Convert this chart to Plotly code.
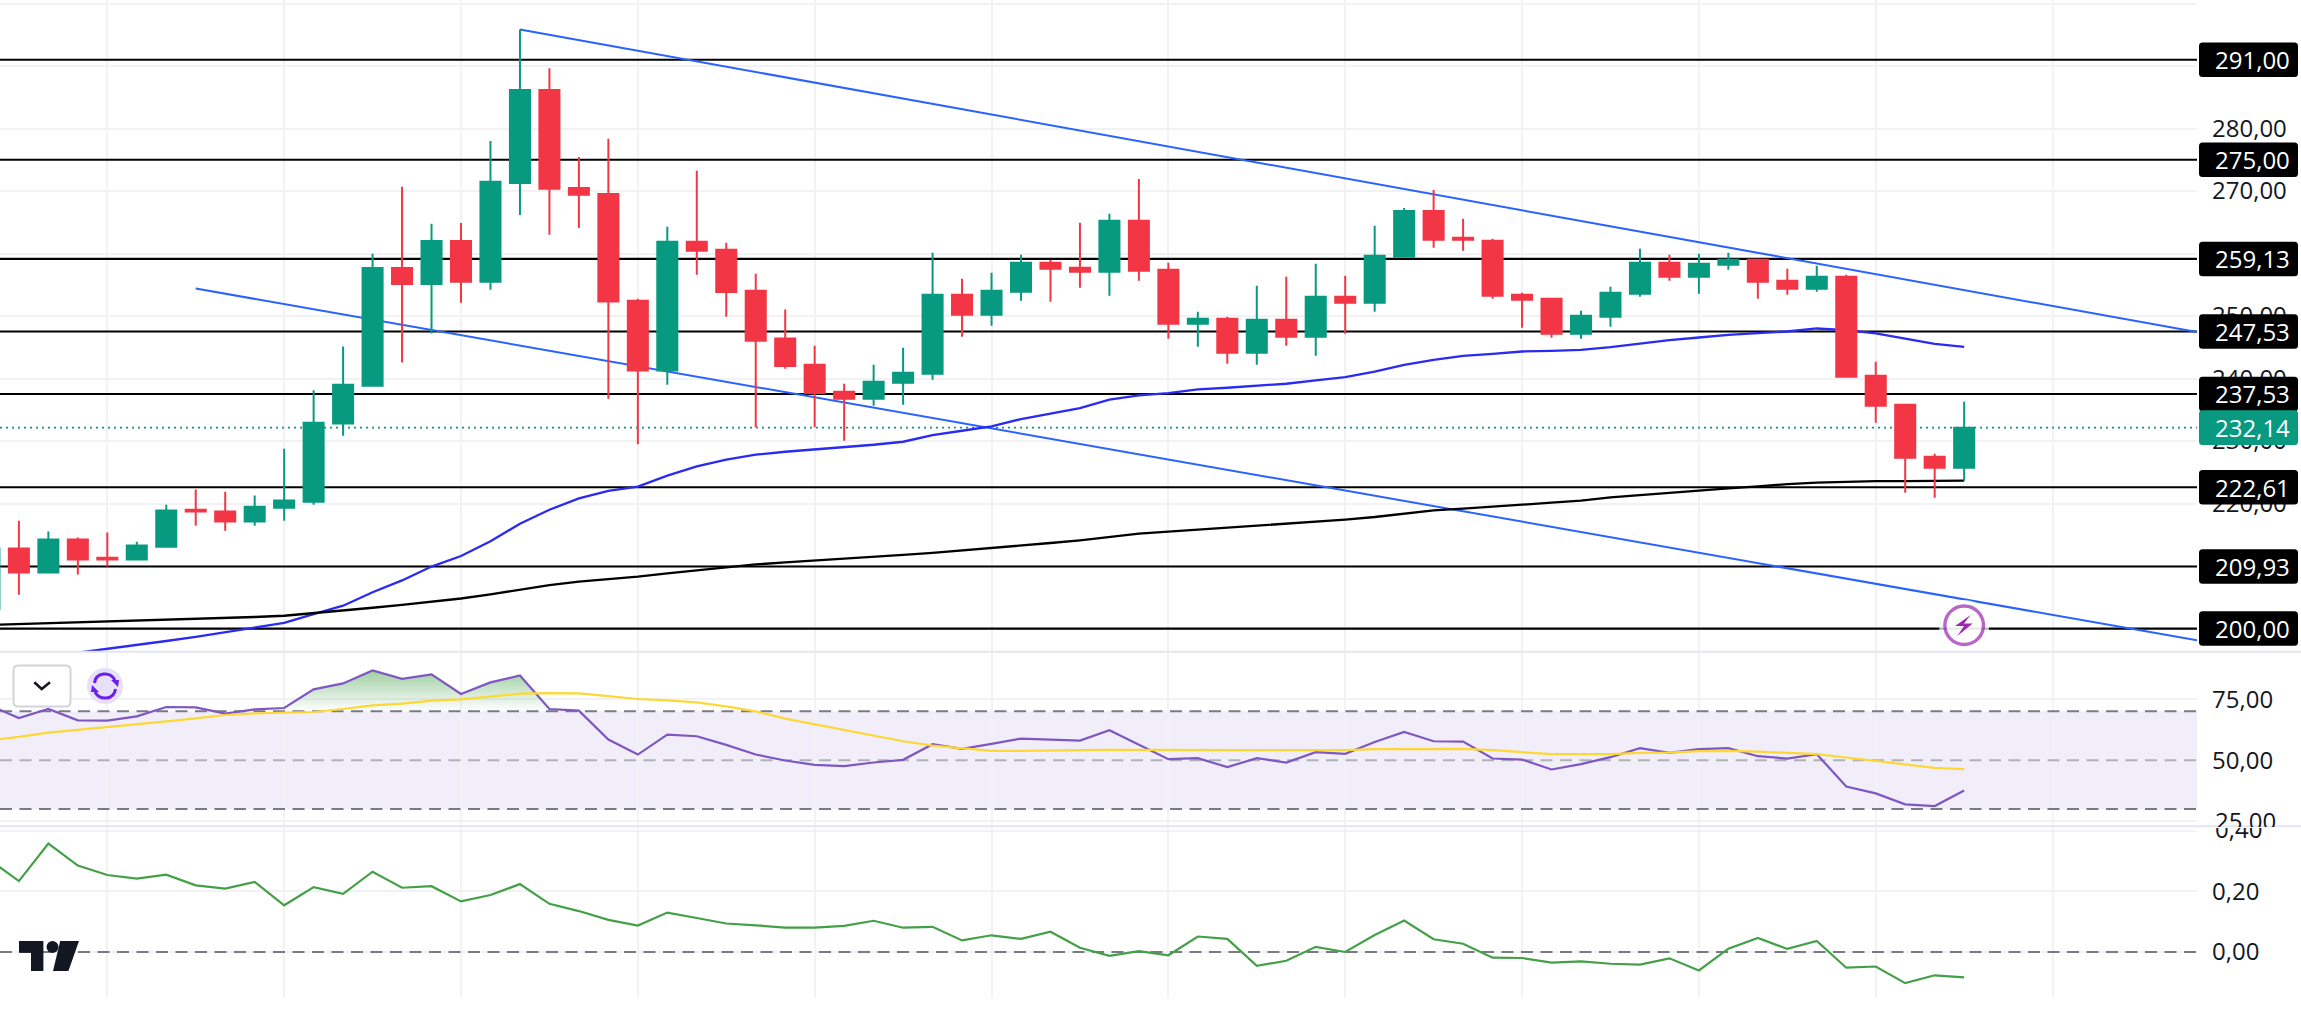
import numpy as np
import plotly.graph_objects as go

# ---------- data ----------
bar_index = list(range(-1, 67))
opens = [203.13,212.82,208.98,214.23,211.33,211.06,213.08,219.01,218.74,217.12,219.34,220.28,232.80,238.85,257.70,255.14,262.00,255.48,271.29,286.16,270.48,269.54,252.45,241.28,261.87,260.59,254.06,246.39,
         242.20,237.89,236.77,239.33,240.77,253.40,250.20,253.87,258.51,257.71,257.07,265.23,257.39,248.76,249.56,244.12,249.40,246.68,253.08,252.12,259.47,266.82,262.51,262.03,253.40,252.76,247.16,
         249.88,253.55,258.51,256.27,258.19,258.99,255.63,254.35,256.27,240.44,235.81,227.49,225.73]
highs = [212.82,217.26,215.51,214.56,215.37,213.89,219.81,222.23,221.90,221.29,228.76,238.11,245.11,259.98,270.68,264.76,264.90,278.02,295.85,289.66,275.46,278.35,252.78,264.29,273.24,261.73,256.75,251.03,
         245.24,239.17,242.20,244.92,260.11,255.95,256.91,259.79,258.99,264.91,266.35,271.94,258.51,250.68,249.88,254.83,256.27,258.35,256.43,264.43,267.30,270.18,265.55,262.35,253.72,252.76,250.84,
         254.67,260.75,259.79,259.95,260.11,259.15,257.55,258.03,256.59,242.68,235.81,227.97,236.29]
lows = [203.13,205.41,208.98,208.64,209.92,211.06,213.08,216.45,215.64,216.45,217.26,219.81,230.85,238.85,242.56,247.20,252.11,254.20,266.17,263.01,264.09,236.77,229.50,238.99,256.62,249.89,232.19,241.55,
        232.19,230.05,235.65,235.81,239.81,246.68,248.44,252.44,252.28,254.51,253.24,255.63,246.36,245.08,242.36,242.20,245.24,243.64,247.16,250.68,259.47,260.91,260.43,252.76,248.12,246.52,246.36,
        248.28,253.07,255.63,253.55,257.39,252.75,253.39,253.87,240.28,232.93,221.74,220.94,223.66]
closes = [212.82,208.98,214.23,211.06,211.06,213.29,218.87,218.74,217.12,219.48,220.48,232.93,238.99,257.70,255.14,262.00,255.48,271.49,286.16,270.35,269.40,252.31,241.28,261.87,260.46,253.86,246.06,242.02,
          237.67,236.77,239.49,240.93,253.40,250.20,254.03,258.51,257.55,257.07,265.23,257.23,248.76,249.56,244.12,249.40,246.68,253.08,252.12,259.63,266.82,262.19,262.19,253.24,252.60,247.16,250.04,
          253.71,258.51,256.27,258.35,258.99,255.47,254.35,256.27,240.28,235.65,227.33,225.73,232.14]

ma50_index = list(range(2, 67))
ma50 = [196.13,196.73,197.40,198.01,198.68,199.42,200.16,200.91,202.32,203.66,205.82,207.70,209.92,211.60,213.96,216.78,219.01,220.82,222.03,222.71,224.46,225.94,227.01,227.82,228.29,
        228.67,228.99,229.41,229.89,230.96,231.65,232.35,233.52,234.42,235.28,236.61,237.30,237.67,238.26,238.53,238.90,239.17,239.70,240.23,241.09,242.20,243.00,243.64,243.96,
        244.33,244.44,244.60,245.03,245.61,246.14,246.57,247.00,247.26,247.53,248.01,247.74,247.21,246.36,245.56,245.08]
ma200 = [200.57,200.70,200.84,200.97,201.11,201.24,201.37,201.51,201.64,201.85,202.05,202.45,202.86,203.33,203.80,204.27,204.81,205.48,206.22,206.96,207.50,207.90,208.31,208.84,209.31,209.85,210.26,210.59,
         210.87,211.14,211.40,211.78,212.10,212.47,212.84,213.27,213.69,214.12,214.71,215.19,215.51,215.83,216.15,216.41,216.73,217.11,217.43,217.85,218.38,218.92,219.18,219.56,219.82,220.14,220.46,
         220.99,221.37,221.68,222.06,222.43,222.75,223.12,223.34,223.50,223.60,223.60,223.60,223.66]

rsi = [72.45,67.28,70.95,66.33,66.19,67.96,71.77,71.63,69.05,70.82,71.36,78.98,81.43,86.74,83.33,85.10,77.08,81.84,84.69,70.95,70.27,58.44,52.31,60.48,59.80,56.26,52.31,49.87,
       48.10,47.55,49.05,50.14,56.53,54.63,56.67,58.85,58.44,58.03,62.25,56.26,50.41,50.82,47.14,50.82,49.05,53.27,52.59,57.48,61.57,57.76,57.62,50.68,50.27,46.19,48.37,
       51.23,54.90,53.00,54.49,54.90,51.63,50.68,52.45,39.25,36.40,31.91,31.23,37.62]
rsi_ma = [58.16,59.53,61.29,62.38,63.61,64.70,65.92,67.14,68.50,69.19,69.32,69.73,70.95,72.45,73.13,74.35,74.90,75.99,77.21,77.48,77.35,76.26,75.04,74.49,73.67,72.04,70.00,67.01,
          64.70,62.11,60.07,57.76,55.99,54.76,53.81,53.81,54.08,54.08,54.22,54.22,54.08,54.08,54.08,54.22,54.22,54.36,54.08,54.49,54.63,54.63,54.63,54.08,53.27,52.45,52.45,
          52.45,53.00,53.13,53.68,53.81,53.54,53.13,52.45,51.09,49.59,48.23,46.87,46.33]
momentum = [0.305,0.234,0.358,0.285,0.254,0.242,0.255,0.220,0.209,0.231,0.154,0.214,0.192,0.265,0.212,0.217,0.167,0.188,0.224,0.159,0.135,0.106,0.087,0.130,0.112,0.094,0.088,0.080,
            0.080,0.086,0.103,0.080,0.083,0.038,0.055,0.043,0.067,0.014,-0.013,0.003,-0.011,0.051,0.043,-0.046,-0.029,0.017,0.0,0.056,0.104,0.042,0.027,-0.019,-0.020,-0.035,-0.031,
            -0.039,-0.042,-0.021,-0.061,0.011,0.046,0.010,0.036,-0.052,-0.048,-0.103,-0.077,-0.084]

levels = [291.00, 275.00, 259.13, 247.53, 237.53, 222.61, 209.93, 200.00]
level_labels = ["291,00", "275,00", "259,13", "247,53", "237,53", "222,61", "209,93", "200,00"]
last_price = 232.14
last_label = "232,14"

trend_upper_x = [17, 73.9]
trend_upper_y = [295.85, 247.43]
trend_lower_x = [6, 73.9]
trend_lower_y = [254.4, 198.13]

price_ticks = [200, 210, 220, 230, 240, 250, 260, 270, 280, 290, 300]
price_ticktext = ["200,00", "210,00", "220,00", "230,00", "240,00", "250,00", "260,00", "270,00", "280,00", "290,00", "300,00"]
rsi_ticks = [25, 50, 75]
rsi_ticktext = ["", "50,00", "75,00"]
mom_ticks = [0.0, 0.2, 0.4]
mom_ticktext = ["0,00", "0,20", ""]
grid_start = 3
grid_step = 6

# ---------- layout constants ----------
W, H = 2301, 1010
PW, PH = 2197, 998
XR = [-0.641, 73.9]
def fx(p): return p / PW
def fy(p): return 1 - p / PH
FONT = "Open Sans"
FS = 24
TXT = "#131722"
GRID = "#F2F2F5"
GREEN = "#089981"
RED = "#F23645"

fig = go.Figure()

def line(x, y, ya, xa, color, width=2, dash=None, **kw):
    fig.add_trace(go.Scatter(x=x, y=y, xaxis=xa, yaxis=ya, mode="lines", hoverinfo="skip", showlegend=False,
                             line=dict(color=color, width=width, dash=dash), **kw))

# main panel, drawn underneath the candles
for lv in levels:
    line(XR, [lv, lv], "y", "x", "#000000", 2.2)
line(XR, [last_price, last_price], "y", "x", GREEN, 1.6, "2px,4px")
line(trend_upper_x, trend_upper_y, "y", "x", "#2962FF", 2)
line(trend_lower_x, trend_lower_y, "y", "x", "#2962FF", 2)
line(ma50_index, ma50, "y", "x", "#2A2AF5", 2.3)
line(bar_index, ma200, "y", "x", "#000000", 2.3)
fig.add_trace(go.Scatter(x=[66, 66], y=[200.53, 200.53], xaxis="x", yaxis="y", mode="markers", hoverinfo="skip", showlegend=False,
                         marker=dict(size=[47, 38.6], color="#FFFFFF",
                                     line=dict(color=["#FFFFFF", "#9C27B0"], width=3.4))))

# candles on an overlay so they sit above the lines
fig.add_trace(go.Candlestick(x=bar_index, open=opens, high=highs, low=lows, close=closes, xaxis="x4", yaxis="y4",
                             increasing=dict(line=dict(color=GREEN, width=2), fillcolor=GREEN),
                             decreasing=dict(line=dict(color=RED, width=2), fillcolor=RED),
                             whiskerwidth=0, hoverinfo="skip", showlegend=False))

# RSI panel
rsi_top = np.maximum(np.array(rsi), 70.0)
line(bar_index, [70.0] * len(bar_index), "y2", "x2", "rgba(0,0,0,0)", 0)
fig.add_trace(go.Scatter(x=bar_index, y=rsi_top, xaxis="x2", yaxis="y2", mode="lines", hoverinfo="skip", showlegend=False,
                         line=dict(color="rgba(0,0,0,0)", width=0), fill="tonexty",
                         fillgradient=dict(type="vertical", start=87, stop=70,
                                           colorscale=[[0, "rgba(67,160,71,0.52)"], [1, "rgba(67,160,71,0.0)"]])))
for v, c in [(70, "#787B86"), (50, "rgba(120,123,134,0.55)"), (30, "#787B86")]:
    line(XR, [v, v], "y2", "x2", c, 2, "12px,7.5px")
line(bar_index, rsi, "y2", "x2", "#7E57C2", 2.2)
line(bar_index, rsi_ma, "y2", "x2", "#FDD835", 2.2)

# momentum panel
line(XR, [0, 0], "y3", "x3", "#787B86", 2, "12px,7.5px")
line(bar_index, momentum, "y3", "x3", "#43A047", 2.2)

# ---------- shapes ----------
def rrect(x0, y0, x1, y1, r):
    return (f"M{fx(x0+r)},{fy(y0)} L{fx(x1-r)},{fy(y0)} Q{fx(x1)},{fy(y0)} {fx(x1)},{fy(y0+r)} "
            f"L{fx(x1)},{fy(y1-r)} Q{fx(x1)},{fy(y1)} {fx(x1-r)},{fy(y1)} L{fx(x0+r)},{fy(y1)} "
            f"Q{fx(x0)},{fy(y1)} {fx(x0)},{fy(y1-r)} L{fx(x0)},{fy(y0+r)} Q{fx(x0)},{fy(y0)} {fx(x0+r)},{fy(y0)} Z")
def poly(pts, close=True):
    s = "M" + " L".join(f"{fx(a)},{fy(b)}" for a, b in pts)
    return s + (" Z" if close else "")
def curve(p0, c1, c2, p1):
    return (f"M{fx(p0[0])},{fy(p0[1])} C{fx(c1[0])},{fy(c1[1])} {fx(c2[0])},{fy(c2[1])} {fx(p1[0])},{fy(p1[1])}")

shapes = []
def pshape(path, fill=None, lc=None, lw=0, layer="above"):
    shapes.append(dict(type="path", xref="paper", yref="paper", path=path, layer=layer,
                       fillcolor=fill or "rgba(0,0,0,0)", line=dict(color=lc or "rgba(0,0,0,0)", width=lw)))

# RSI band
shapes.append(dict(type="rect", xref="paper", yref="y2", x0=0, x1=1, y0=30, y1=70, layer="below",
                   fillcolor="rgba(126,87,194,0.10)", line=dict(width=0)))
# pane separators
for yy in (651.7, 826.2):
    shapes.append(dict(type="line", xref="paper", yref="paper", x0=0, x1=W / PW, y0=fy(yy), y1=fy(yy), layer="above",
                       line=dict(color="#E3E5F2", width=2)))
# price labels
def tag(value, color):
    hw, hh, r = 99, 17.3, 3.5
    shapes.append(dict(type="path", xref="paper", yref="y", xsizemode="pixel", ysizemode="pixel",
                       xanchor=2199 / PW, yanchor=value, layer="above", fillcolor=color, line=dict(width=0),
                       path=(f"M{r},{-hh} L{hw-r},{-hh} Q{hw},{-hh} {hw},{-hh+r} L{hw},{hh-r} Q{hw},{hh} {hw-r},{hh} "
                             f"L{r},{hh} Q0,{hh} 0,{hh-r} L0,{-hh+r} Q0,{-hh} {r},{-hh} Z")))
for lv in levels:
    tag(lv, "#000000")
tag(last_price, GREEN)
# lightning bolt
pshape(poly([(1970.7, 615), (1955, 626), (1964, 626), (1957.3, 636), (1972.7, 623.4), (1964, 623.4)]), fill="#9C27B0")
# chevron button
pshape(rrect(13.5, 665.5, 70.5, 706.5, 5), fill="#FFFFFF", lc="#D1D4DC", lw=2)
pshape(poly([(34.3, 682.3), (41.7, 689), (50, 682.3)], close=False), lc=TXT, lw=2.6)
# refresh button
shapes.append(dict(type="circle", xref="paper", yref="paper", x0=fx(87), x1=fx(123), y0=fy(668), y1=fy(704),
                   layer="above", fillcolor="#E7E0FB", line=dict(width=0)))
pshape(curve((94.5, 683), (96, 672), (110, 671), (115, 680)), lc="#6A1FF0", lw=3)
pshape(curve((115.5, 689), (114, 700), (100, 701), (95, 692)), lc="#6A1FF0", lw=3)
pshape(poly([(111, 680), (119, 680), (118, 687)]), fill="#6A1FF0")
pshape(poly([(99, 692), (91, 692), (92, 685)]), fill="#6A1FF0")
# TradingView logo
pshape(poly([(19, 941), (43.4, 941), (43.4, 971), (31, 971), (31, 952.7), (19, 952.7)]), fill=TXT)
shapes.append(dict(type="circle", xref="paper", yref="paper", x0=fx(46.5), x1=fx(58.5), y0=fy(941), y1=fy(953),
                   layer="above", fillcolor=TXT, line=dict(width=0)))
pshape(poly([(60.2, 941), (79, 941), (68.4, 971), (53, 971)]), fill=TXT)

# ---------- annotations ----------
anns = []
TEXT_X = 2214 / PW
def tag_text(value, text):
    anns.append(dict(xref="paper", yref="y", x=TEXT_X, y=value, text=text, showarrow=False, xanchor="left",
                     yanchor="middle", borderpad=0, font=dict(family=FONT, size=FS, color="#FFFFFF")))
for lv, tx in zip(levels, level_labels):
    tag_text(lv, tx)
tag_text(last_price, last_label)
# the two scale labels that are cut by the pane border
anns.append(dict(xref="paper", yref="paper", x=TEXT_X, y=fy(803), text="25,00", showarrow=False, xanchor="left",
                 yanchor="top", align="left", valign="top", height=23, width=80, borderpad=0,
                 font=dict(family=FONT, size=FS, color=TXT)))
anns.append(dict(xref="paper", yref="paper", x=TEXT_X, y=fy(827), text="0,40", showarrow=False, xanchor="left",
                 yanchor="top", align="left", valign="bottom", height=17, width=80, borderpad=0,
                 font=dict(family=FONT, size=FS, color=TXT)))

# ---------- axes ----------
d_main = [fy(651.7), 1]
d_rsi = [fy(826), fy(652.5)]
d_mom = [0, fy(827)]
xcommon = dict(range=XR, showticklabels=False, showline=False, zeroline=False, showgrid=True, gridcolor=GRID, gridwidth=1.6,
               tick0=grid_start, dtick=grid_step, ticks="", rangeslider=dict(visible=False))
ycommon = dict(side="right", showline=False, zeroline=False, showgrid=True, gridcolor=GRID, gridwidth=1.6, ticks="",
               tickmode="array", ticklabelstandoff=14, tickfont=dict(family=FONT, size=FS, color=TXT))

fig.update_layout(
    width=W, height=H, autosize=False, paper_bgcolor="#FFFFFF", plot_bgcolor="#FFFFFF",
    margin=dict(l=0, r=W - PW, t=0, b=H - PH, pad=0), showlegend=False, hovermode=False,
    boxgap=0.32, boxgroupgap=0, shapes=shapes, annotations=anns,
    xaxis=dict(**xcommon, anchor="y", domain=[0, 1]),
    xaxis2=dict(**xcommon, anchor="y2", domain=[0, 1]),
    xaxis3=dict(**xcommon, anchor="y3", domain=[0, 1]),
    xaxis4=dict(range=XR, overlaying="x", visible=False, anchor="y4", rangeslider=dict(visible=False)),
    yaxis=dict(**ycommon, anchor="x", domain=d_main, range=[196.3, 300.56], tickvals=price_ticks, ticktext=price_ticktext),
    yaxis2=dict(**ycommon, anchor="x2", domain=d_rsi, range=[23.06, 94.08], tickvals=rsi_ticks, ticktext=rsi_ticktext),
    yaxis3=dict(**ycommon, anchor="x3", domain=d_mom, range=[-0.152, 0.4125], tickvals=mom_ticks, ticktext=mom_ticktext),
    yaxis4=dict(overlaying="y", visible=False, anchor="x4", range=[196.3, 300.56]),
)

fig.write_html("out.html", config=dict(displayModeBar=False),
               post_script="document.body.style.margin='0';document.body.style.overflow='hidden';")
